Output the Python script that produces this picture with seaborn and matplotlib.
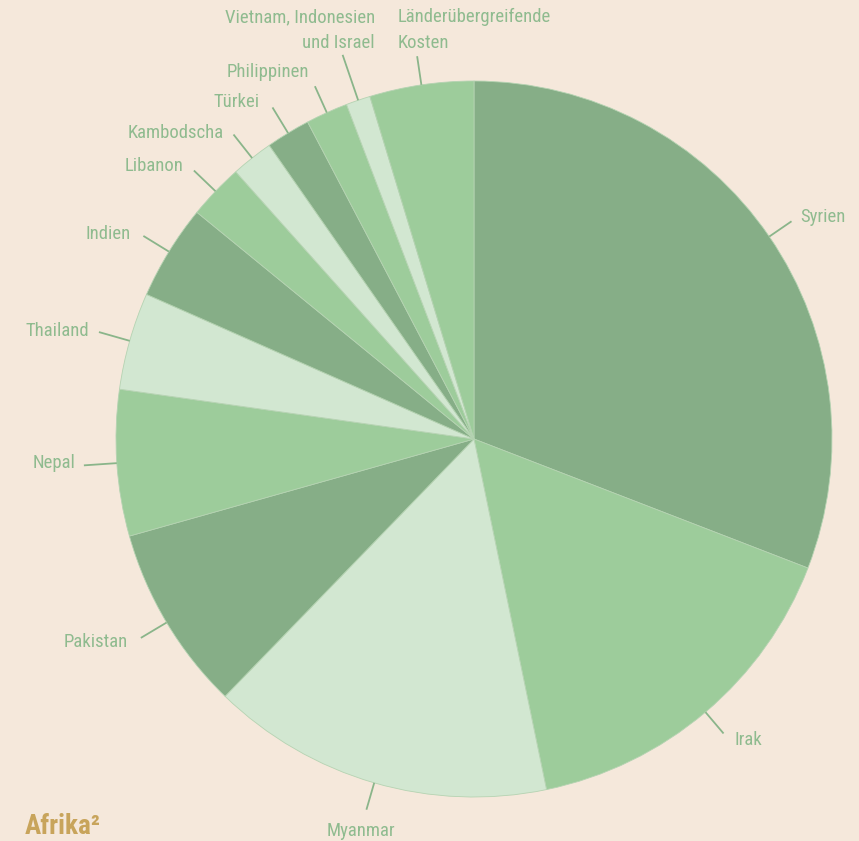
import numpy as np
import matplotlib
matplotlib.use("Agg")
import matplotlib.pyplot as plt
import seaborn as sns
from matplotlib import font_manager

# ---------------- data ----------------
categories = ["Syrien", "Irak", "Myanmar", "Pakistan", "Nepal", "Thailand",
              "Indien", "Libanon", "Kambodscha", "Türkei", "Philippinen",
              "Vietnam, Indonesien\nund Israel", "Länderübergreifende\nKosten"]
values = [30.9, 15.9, 15.5, 8.4, 6.6, 4.4, 4.3, 2.5, 1.9, 2.0, 1.9, 1.1, 4.7]
shades = ["dark", "medium", "light", "dark", "medium", "light", "dark",
          "medium", "light", "dark", "medium", "light", "medium"]
title = "Afrika²"

# ---------------- style ----------------
BG = "#F5E8DB"
SHADE_COL = {"dark": "#86AE87", "medium": "#9DCC9B", "light": "#D2E7D1"}
TXT = "#8FBB8F"
LINE = "#8AB58A"
GOLD = "#C8A45B"

sns.set_theme(style="white")
names = {f.name for f in font_manager.fontManager.ttflist}
fam = [f for f in ["Liberation Sans Narrow", "Roboto Condensed", "Roboto"] if f in names][:1] + ["DejaVu Sans"]
plt.rcParams["font.family"] = fam

W, H = 859, 841
CX, CY, R = 474, 439, 358

palette = sns.color_palette([SHADE_COL[s] for s in shades])

fig = plt.figure(figsize=(W / 100, H / 100), dpi=100, facecolor=BG)
ax = fig.add_axes([0, 0, 1, 1])
ax.set_facecolor(BG)

wedges, _ = ax.pie(values, colors=palette, startangle=90, counterclock=False,
                   radius=1, center=(0, 0),
                   wedgeprops=dict(linewidth=0.6, edgecolor="#B5D3B2"))

ax.set_xlim(-CX / R, (W - CX) / R)
ax.set_ylim(-(H - CY) / R, CY / R)
ax.set_aspect("auto")
ax.axis("off")


def px(x, y):
    return (x - CX) / R, (CY - y) / R


# layout: line length (px), text x, text y (px), ha
layout = [
    (27, 800, 217, "left"),
    (28, 735, 740, "left"),
    (28, 361, 831, "center"),
    (30, 128, 642, "right"),
    (33, 75, 463, "right"),
    (32, 89, 331, "right"),
    (30, 131, 234, "right"),
    (30, 184, 166, "right"),
    (30, 224, 133, "right"),
    (30, 260, 102, "right"),
    (29, 309, 72, "right"),
    (48, 375, 30, "right"),
    (29, 398, 30, "left"),
]

FS = 13.5
for w, lab, (ll, tx, ty, ha) in zip(wedges, categories, layout):
    th = np.deg2rad((w.theta1 + w.theta2) / 2)
    r1 = 1.0
    r2 = 1.0 + ll / R
    ax.plot([r1 * np.cos(th), r2 * np.cos(th)], [r1 * np.sin(th), r2 * np.sin(th)],
            color=LINE, lw=1.3, solid_capstyle="butt")
    x, y = px(tx, ty)
    ax.text(x, y, lab, ha=ha, va="center", fontsize=FS, color=TXT,
            linespacing=1.58, multialignment=ha if ha != "center" else "center")

x, y = px(25, 826)
ax.text(x, y, title, ha="left", va="center", fontsize=19.5, fontweight="bold", color=GOLD)

fig.savefig("out.png", dpi=100, facecolor=BG)
